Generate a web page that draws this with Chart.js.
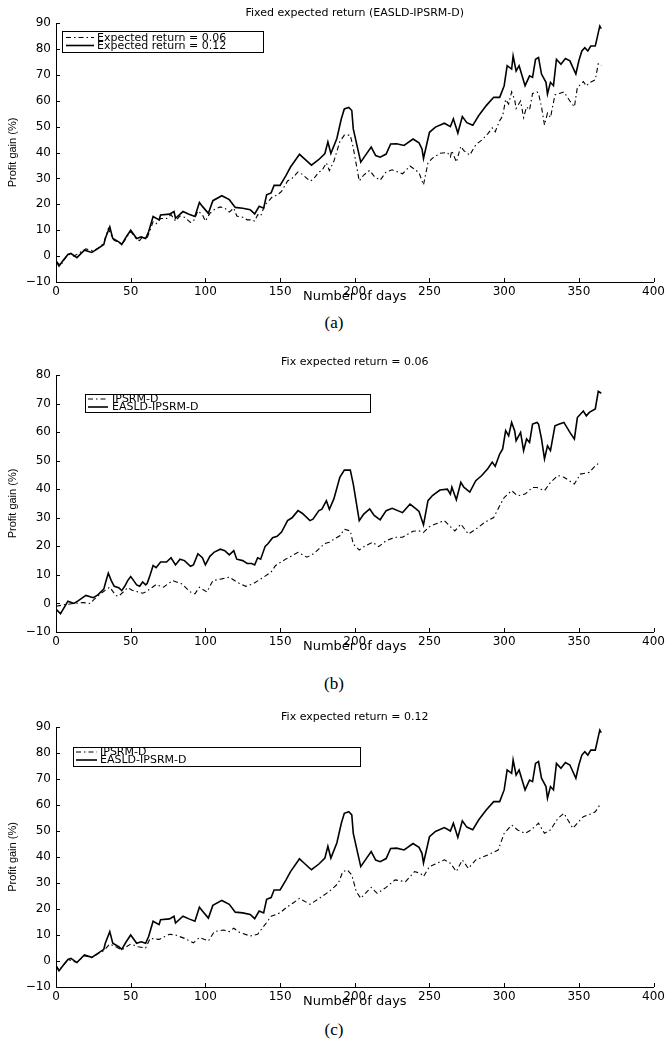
<!DOCTYPE html>
<html>
<head>
<meta charset="utf-8">
<script src="https://cdn.jsdelivr.net/npm/chart.js@4.4.1/dist/chart.umd.min.js"></script>
<style>
  html, body { margin: 0; padding: 0; background: #fff; }
  body { width: 668px; height: 1049px; position: relative; overflow: hidden; }
  .panel { position: absolute; left: 0; width: 668px; height: 305px; }
  .cap { position: absolute; left: 0; width: 668px; text-align: center;
         font-family: 'Liberation Serif', 'Times New Roman', serif; font-size: 17px; color: #000; }
</style>
</head>
<body>
<div class="panel" style="top:0px"><canvas id="chartA" width="668" height="305"></canvas></div>
<div class="cap" style="top:313px">(a)</div>
<div class="panel" style="top:350px"><canvas id="chartB" width="668" height="305"></canvas></div>
<div class="cap" style="top:674px">(b)</div>
<div class="panel" style="top:705px"><canvas id="chartC" width="668" height="305"></canvas></div>
<div class="cap" style="top:1020px">(c)</div>

<script>
// Cumulative profit gain (%) by trading day: [day, gain]
const easld006 = [[0,-2],[3,-3.6],[8,0.8],[12,0],[15,1],[20,2.8],[25,2],[28,3],[32,5],[33,7],[35,10.6],[37,8],[39,6],[42,5.5],[44,4.5],[46,6],[48,8],[50,9.4],[52,8],[54,6.5],[56,6],[58,7.5],[60,6.5],[61,7],[63,10],[65,13.3],[67,12.5],[70,14.5],[74,14.5],[77,16],[80,13.5],[83,15.5],[86,15],[90,13],[92,13.5],[95,17.4],[98,16],[100,13.5],[103,16.5],[106,18],[110,19],[113,18.5],[116,17],[119,18.5],[121,15.5],[125,15],[128,14],[131,14],[133,13.5],[135,16],[137,15.5],[140,20],[142,21],[145,23],[148,23.5],[151,25],[155,29],[158,30],[162,32.5],[165,31.5],[170,29],[172,29.5],[176,32.5],[178,33],[181,36],[183,33],[186,36.6],[190,44.2],[193,46.7],[197,46.7],[199,41.8],[201,35.4],[203,29],[206,31.3],[210,33.1],[213,30.8],[217,29.3],[221,32.5],[225,33.3],[232,31.8],[237,34.8],[241,33.1],[243,32.2],[246,27.5],[249,36],[252,37.8],[257,39.7],[262,40],[264,38.3],[265,40.7],[268,36.3],[271,42.4],[273,40.7],[277,39],[281,43],[285,44.8],[289,47.2],[292,49.5],[294,48],[297,52.3],[299,54.1],[301,60.5],[303,58.7],[305,63.4],[307,60.5],[308,57],[311,59.9],[313,53.5],[315,57.6],[317,56.4],[319,62.8],[322,63.4],[323,62.8],[325,57.6],[327,50.6],[329,55.2],[331,53.5],[334,62.2],[337,62.8],[340,63.4],[344,59.9],[347,57.6],[349,65.1],[353,67.4],[355,65.7],[357,66.9],[361,68.1],[363,74.3],[365,73.6]];

const easld012 = [[0,-1.8],[2,-3.8],[5,-1.5],[8,0.6],[10,1],[14,-0.6],[19,2.3],[24,1.4],[28,2.9],[32,4.5],[33,6.8],[36,11.3],[38,6.8],[42,5.5],[44,4.5],[47,7.4],[50,10],[54,6.8],[57,7.4],[60,6.8],[62,9.4],[65,15.3],[69,14],[70,15.9],[76,16.2],[79,17.2],[80,14.6],[85,17.2],[89,16.2],[93,15.3],[96,20.7],[98,19.2],[102,16.5],[105,21.4],[111,23.3],[116,21.8],[120,18.8],[125,18.5],[130,17.9],[133,16.3],[136,19.2],[139,18.5],[141,23.7],[144,24.4],[146,27.3],[150,27.3],[154,31.2],[157,34.4],[163,39.3],[166,37.7],[171,35.1],[176,37.3],[180,39.6],[182,44.1],[184,39.6],[188,45.4],[191,53],[193,56.8],[196,57.4],[198,56.2],[199,49.1],[202,41.4],[204,36.3],[207,38.8],[211,42.1],[214,38.8],[217,38.2],[221,39.4],[224,43.3],[228,43.4],[233,42.7],[239,45.2],[243,43.7],[245,41.4],[246,37.7],[250,47.8],[254,49.8],[260,51.3],[264,50],[266,53],[269,47.5],[272,53.9],[275,51.5],[279,50.5],[283,54.3],[288,58.1],[293,61.3],[297,61.3],[300,65.8],[302,73.5],[305,72.2],[306,77.3],[308,71.5],[310,73.5],[312,69.6],[314,65.8],[317,69.6],[319,69],[321,76],[323,76.7],[325,70.3],[328,67.1],[329,62.6],[331,67.1],[333,65.8],[335,76],[338,74.1],[341,76.3],[344,75.4],[348,70.3],[350,75.4],[352,79.2],[354,80.5],[356,79.2],[358,81.1],[361,81.1],[364,88.8],[365,87.8]];

const ipsrm006 = [[0,-1],[5,-0.5],[12,0],[18,0.3],[23,0],[25,1.2],[30,3.5],[36,5.7],[40,2.8],[42,2.5],[48,5.5],[51,4.6],[58,3.6],[60,4],[67,6.6],[72,5.7],[78,8],[84,6.9],[90,4],[93,3.4],[96,5.7],[101,4],[105,8],[111,8.6],[116,9.2],[121,7.5],[127,6],[132,6.9],[139,9.2],[144,11],[147,13.3],[154,15.6],[162,17.9],[168,16.2],[173,17.6],[176,19.1],[180,21],[183,21.4],[186,22.5],[190,23.7],[193,26],[197,25.4],[199,20.8],[203,18.7],[207,20.2],[212,21.4],[216,19.9],[221,22],[227,23.2],[232,23.2],[239,25.3],[243,25.4],[246,24.9],[250,26.9],[254,27.8],[260,29],[264,26.9],[267,25.4],[271,27.8],[276,24.3],[281,26],[287,28.4],[293,30.1],[297,34.2],[300,37.1],[305,39.5],[309,37.7],[314,38.3],[319,40.6],[322,40.6],[327,39.5],[331,42.4],[336,44.8],[340,44.2],[347,41.8],[351,45.3],[357,45.9],[361,48.2],[364,49.4]];

const ipsrm012 = [[0,-1.8],[2,-3.5],[5,-1.5],[8,0.5],[14,-0.5],[19,2],[24,1.3],[28,2.8],[32,4],[36,6.5],[40,5.5],[44,4.3],[50,6.5],[55,5.5],[60,5],[63,8.7],[69,8.3],[76,10.3],[80,10],[86,8.7],[92,7],[96,9],[102,7.7],[106,11.3],[112,11.9],[116,11.3],[119,12.6],[123,11],[130,9.6],[135,10.3],[141,14.8],[144,17.2],[150,18.5],[154,20.5],[159,22.4],[163,24.1],[170,21.8],[176,24],[183,26.8],[189,29.9],[192,34.4],[195,35],[198,33.1],[201,26.7],[204,24.1],[207,26],[211,28.3],[215,26],[221,28.3],[227,31.2],[234,30.5],[240,34.4],[244,33.7],[246,32.5],[250,36.3],[260,38.9],[264,37.6],[268,34.4],[272,38.9],[276,35.6],[281,38.9],[289,40.8],[296,42.7],[300,49.1],[305,52.3],[309,50.4],[314,49.1],[318,50.4],[323,53],[327,49.1],[331,50.4],[336,54.9],[340,56.8],[346,51],[349,53],[353,55.5],[359,56.8],[361,57.4],[364,60]];

// Axis settings
const xTicks = { min: 0, max: 400, step: 50 };
const yTicksA = { min: -10, max: 90, step: 10 };
const yTicksB = { min: -10, max: 80, step: 10 };
const yTicksC = { min: -10, max: 90, step: 10 };

const titles = {
  a: 'Fixed expected return (EASLD-IPSRM-D)',
  b: 'Fix expected return = 0.06',
  c: 'Fix expected return = 0.12'
};
const xTitle = 'Number of days';
const yTitle = 'Profit gain (%)';

const SANS = "'DejaVu Sans', 'Liberation Sans', sans-serif";
const NARROW = "'Liberation Sans Narrow', 'Liberation Sans', sans-serif";
Chart.defaults.font.family = SANS;
Chart.defaults.color = '#000';

const toXY = pairs => pairs.map(([d, v]) => ({ x: d, y: v }));

const DASHDOT = [5, 3, 1.5, 3];

// small tick marks pointing into the plot, drawn at the axes' own tick values
const inwardTicks = {
  id: 'inwardTicks',
  afterDraw(chart, args, opts) {
    const { ctx, chartArea: a, scales: { x, y } } = chart;
    const len = opts.len || 4;
    ctx.save();
    ctx.strokeStyle = '#000';
    ctx.lineWidth = 1;
    ctx.beginPath();
    x.ticks.forEach(t => {
      const px = Math.round(x.getPixelForValue(t.value)) + 0.5;
      ctx.moveTo(px, a.bottom);
      ctx.lineTo(px, a.bottom - len);
    });
    y.ticks.forEach(t => {
      const py = Math.round(y.getPixelForValue(t.value)) + 0.5;
      ctx.moveTo(a.left, py);
      ctx.lineTo(a.left + len, py);
    });
    ctx.stroke();
    ctx.restore();
  }
};

// boxed legend with line samples, labels taken from the datasets
const boxLegend = {
  id: 'boxLegend',
  afterDraw(chart, args, o) {
    const ctx = chart.ctx;
    ctx.save();
    ctx.fillStyle = '#fff';
    ctx.fillRect(o.x, o.y, o.w, o.h);
    ctx.strokeStyle = '#000';
    ctx.lineWidth = 1;
    ctx.strokeRect(o.x + 0.5, o.y + 0.5, o.w, o.h);
    ctx.font = o.font;
    ctx.textBaseline = 'middle';
    ctx.textAlign = 'left';
    ctx.fillStyle = '#000';
    chart.data.datasets.forEach((ds, i) => {
      const ry = o.rows[i];
      ctx.setLineDash(ds.borderDash || []);
      ctx.lineWidth = ds.borderWidth;
      ctx.beginPath();
      ctx.moveTo(o.lineX0, ry);
      ctx.lineTo(o.lineX1, ry);
      ctx.stroke();
      ctx.setLineDash([]);
      ctx.fillText(ds.label, o.textX, ry + 0.5);
    });
    ctx.restore();
  }
};

function makeChart(id, cfg) {
  const tickFont = { family: SANS, size: 12 };
  return new Chart(document.getElementById(id), {
    type: 'line',
    data: {
      datasets: cfg.series.map(s => ({
        label: s.label,
        data: toXY(s.data),
        borderColor: '#000',
        borderWidth: s.dash ? 1.1 : 1.6,
        borderDash: s.dash ? DASHDOT : [],
        pointRadius: 0,
        tension: 0,
        fill: false
      }))
    },
    options: {
      responsive: false,
      animation: false,
      devicePixelRatio: 1,
      layout: { padding: { left: 0, right: 13, top: 0, bottom: 0 } },
      plugins: {
        legend: { display: false },
        tooltip: { enabled: false },
        title: {
          display: true,
          text: cfg.title,
          fullSize: false,
          color: '#000',
          font: { family: SANS, size: 11, weight: 'normal', lineHeight: 1.2 },
          padding: cfg.titlePad
        },
        inwardTicks: { len: 4 },
        boxLegend: cfg.legend
      },
      scales: {
        x: {
          type: 'linear',
          min: xTicks.min, max: xTicks.max,
          grid: { display: false, drawTicks: false },
          border: { display: true, color: '#000', width: 1 },
          ticks: { stepSize: xTicks.step, padding: 3, font: tickFont, color: '#000', maxRotation: 0,
                   callback: v => String(v).replace('-', '\u2212') },
          title: { display: true, text: xTitle, color: '#000',
                   font: { family: SANS, size: 13, lineHeight: 1.2 },
                   padding: { top: 0, bottom: 1 } },
          afterFit: s => { s.height = 23; }
        },
        y: {
          min: cfg.y.min, max: cfg.y.max,
          grid: { display: false, drawTicks: false },
          border: { display: true, color: '#000', width: 1 },
          ticks: { stepSize: cfg.y.step, padding: 5, font: tickFont, color: '#000',
                   callback: v => String(v).replace('-', '\u2212') },
          title: { display: true, text: yTitle, color: '#000',
                   font: { family: NARROW, size: 11, lineHeight: 1.2 },
                   padding: { top: 6, bottom: 0 } },
          afterFit: s => { s.width = 56; }
        }
      }
    },
    plugins: [inwardTicks, boxLegend]
  });
}

const LEGEND_FONT = "11px 'DejaVu Sans', sans-serif";

makeChart('chartA', {
  title: titles.a,
  titlePad: { top: 6.4, bottom: 3.4 },
  y: yTicksA,
  series: [
    { label: 'Expected return = 0.06', data: easld006, dash: true },
    { label: 'Expected return = 0.12', data: easld012, dash: false }
  ],
  legend: { x: 62, y: 31, w: 201, h: 21, rows: [37.5, 45.5], lineX0: 66, lineX1: 94, textX: 97, font: LEGEND_FONT }
});

makeChart('chartB', {
  title: titles.b,
  titlePad: { top: 5.4, bottom: 6.4 },
  y: yTicksB,
  series: [
    { label: 'IPSRM-D', data: ipsrm006, dash: true },
    { label: 'EASLD-IPSRM-D', data: easld006, dash: false }
  ],
  legend: { x: 85, y: 44, w: 285, h: 18, rows: [49, 57], lineX0: 88, lineX1: 108, textX: 112, font: LEGEND_FONT }
});

makeChart('chartC', {
  title: titles.c,
  titlePad: { top: 5.4, bottom: 3.4 },
  y: yTicksC,
  series: [
    { label: 'IPSRM-D', data: ipsrm012, dash: true },
    { label: 'EASLD-IPSRM-D', data: easld012, dash: false }
  ],
  legend: { x: 73, y: 42, w: 287, h: 19, rows: [47, 55], lineX0: 76, lineX1: 97, textX: 100, font: LEGEND_FONT }
});
</script>
</body>
</html>
